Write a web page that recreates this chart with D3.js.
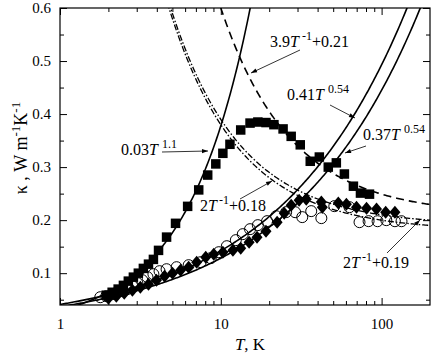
<!DOCTYPE html>
<html>
<head>
<meta charset="utf-8">
<script src="https://cdn.jsdelivr.net/npm/d3@7"></script>
<style>
  body { margin: 0; background: #fff; }
  svg text { font-family: "Liberation Serif", "Times New Roman", Times, "DejaVu Serif", serif !important; fill: #000; }
</style>
</head>
<body>
<svg id="chart" width="436" height="357"></svg>
<script>
// filled squares
var sqT = [1.94, 2.11, 2.30, 2.48, 2.66, 2.86, 3.07, 3.30, 3.55, 3.81, 4.10, 4.60, 5.23, 6.22, 7.29, 8.29, 9.31, 10.3, 11.4, 13.3, 15.2, 17.0, 19.1, 21.4, 24.4, 27.4, 31.2, 36.0, 41.0, 46.6, 52.3, 58.7, 66.8, 73.9, 84.1];
var sqK = [0.0585, 0.064, 0.070, 0.077, 0.085, 0.0925, 0.100, 0.109, 0.117, 0.126, 0.143, 0.168, 0.194, 0.226, 0.257, 0.285, 0.306, 0.326, 0.343, 0.370, 0.383, 0.385, 0.384, 0.380, 0.372, 0.358, 0.342, 0.311, 0.319, 0.300, 0.308, 0.287, 0.264, 0.251, 0.249];

// open circles
var ciT = [1.78, 1.94, 2.11, 2.27, 2.44, 2.62, 2.82, 3.03, 3.25, 3.50, 3.81, 4.16, 4.60, 5.31, 6.31, 7.50, 8.66, 9.72, 10.9, 12.4, 13.7, 15.2, 17.0, 19.4, 22.1, 25.5, 29.0, 32.1, 36.5, 42.2, 50.8, 63.1, 72.9, 83.0, 94.4, 107, 121, 133];
var ciK = [0.0547, 0.0566, 0.0604, 0.0642, 0.066, 0.0698, 0.0755, 0.0811, 0.0868, 0.0925, 0.0981, 0.1038, 0.1075, 0.1113, 0.1151, 0.1208, 0.1283, 0.1396, 0.1509, 0.1623, 0.1736, 0.183, 0.1906, 0.1981, 0.2075, 0.2151, 0.215, 0.2057, 0.217, 0.2038, 0.2264, 0.2245, 0.1962, 0.1981, 0.198, 0.200, 0.198, 0.198];

// filled diamonds
var diT = [2.0, 2.24, 2.51, 2.82, 3.16, 3.55, 3.98, 4.47, 5.01, 5.62, 6.31, 7.08, 8.06, 9.04, 10.3, 11.9, 13.3, 15.0, 16.8, 19.1, 22.4, 24.8, 27.4, 30.7, 34.0, 42.2, 42.8, 53.8, 60.4, 69.8, 80.6, 93.0, 106, 121];
var diK = [0.0528, 0.0566, 0.0623, 0.0679, 0.0736, 0.0792, 0.0868, 0.0943, 0.100, 0.1057, 0.1113, 0.1208, 0.1302, 0.1358, 0.1396, 0.1434, 0.1472, 0.1585, 0.1679, 0.1792, 0.1962, 0.2132, 0.2283, 0.2377, 0.2396, 0.234, 0.2245, 0.2321, 0.2302, 0.2245, 0.2226, 0.2208, 0.2151, 0.2151];

// fitted curves  k = a*T^b  and  k = c/T + d
var powA = [0.03, 0.041, 0.037];
var powB = [1.1, 0.54, 0.54];
var invC = [3.9, 2, 2];
var invD = [0.21, 0.18, 0.19];

var xTicks = [1, 10, 100];
var xMinor = [2, 3, 4, 5, 6, 7, 8, 9, 20, 30, 40, 50, 60, 70, 80, 90];
var yTicks = [0.1, 0.2, 0.3, 0.4, 0.5, 0.6];
var yMinor = [0.05, 0.15, 0.25, 0.35, 0.45, 0.55];

var FONT = '"Liberation Serif", "Times New Roman", Times, serif';
var margin = {left: 60, top: 8, right: 6, bottom: 52};
var W = 436, H = 357;
var w = W - margin.left - margin.right, h = H - margin.top - margin.bottom;

var svg = d3.select('#chart');
var g = svg.append('g').attr('transform', 'translate(' + margin.left + ',' + margin.top + ')');

var x = d3.scaleLog().domain([1, 200]).range([0, w]);
var y = d3.scaleLinear().domain([0.04, 0.6]).range([h, 0]);

var defs = svg.append('defs');
defs.append('clipPath').attr('id', 'clip')
  .append('rect').attr('width', w).attr('height', h);
defs.append('marker').attr('id', 'arr')
  .attr('viewBox', '0 0 10 10').attr('refX', 10).attr('refY', 5)
  .attr('markerWidth', 7).attr('markerHeight', 6).attr('orient', 'auto')
  .attr('markerUnits', 'userSpaceOnUse')
  .append('path').attr('d', 'M0,1.5L10,5L0,8.5Z').attr('fill', '#000');

// axes, ticks pointing inward on all sides
function addAxis(axis, tr, vals, size, labels) {
  var a = g.append('g').attr('transform', tr)
    .call(axis.tickValues(vals).tickSizeInner(size).tickSizeOuter(0).tickPadding(labels ? 13 : 0)
      .tickFormat(labels ? null : function() { return ''; }));
  a.attr('font-family', FONT);
  a.select('.domain').remove();
  a.selectAll('line').attr('stroke', '#000').attr('stroke-width', 1);
  a.selectAll('text').attr('font-size', 15).style('font-family', FONT);
  return a;
}
addAxis(d3.axisBottom(x), 'translate(0,' + h + ')', xTicks, -7, true).selectAll('text').text(function(d) { return d; });
addAxis(d3.axisBottom(x), 'translate(0,' + h + ')', xMinor, -4, false);
addAxis(d3.axisTop(x), 'translate(0,0)', xTicks, -7, false);
addAxis(d3.axisTop(x), 'translate(0,0)', xMinor, -4, false);
addAxis(d3.axisLeft(y), 'translate(0,0)', yTicks, -7, true).selectAll('text').attr('dx', 4).text(function(d) { return d3.format('.1f')(d); });
addAxis(d3.axisLeft(y), 'translate(0,0)', yMinor, -4, false);
addAxis(d3.axisRight(y), 'translate(' + w + ',0)', yTicks, -7, false);
addAxis(d3.axisRight(y), 'translate(' + w + ',0)', yMinor, -4, false);

g.append('rect').attr('width', w).attr('height', h)
  .attr('fill', 'none').attr('stroke', '#000').attr('stroke-width', 1.2);

// curves
var plot = g.append('g').attr('clip-path', 'url(#clip)');
var Ts = d3.range(0, 301).map(function(i) { return Math.pow(10, i * Math.log10(200) / 300); });
var line = d3.line().x(function(d) { return x(d[0]); }).y(function(d) { return y(d[1]); });

powA.forEach(function(a, i) {
  plot.append('path')
    .attr('d', line(Ts.map(function(t) { return [t, a * Math.pow(t, powB[i])]; })))
    .attr('fill', 'none').attr('stroke', '#000').attr('stroke-width', 1.6);
});
invC.forEach(function(c, i) {
  plot.append('path')
    .attr('d', line(Ts.map(function(t) { return [t, c / t + invD[i]]; }).filter(function(p) { return p[1] < 0.7; })))
    .attr('fill', 'none').attr('stroke', '#000').attr('stroke-width', i == 0 ? 1.6 : 1.3)
    .attr('stroke-dasharray', i == 0 ? '8,5' : '6,2,1.5,2');
});

// data markers
var sqs = d3.zip(sqT, sqK), cis = d3.zip(ciT, ciK), dis = d3.zip(diT, diK);
plot.selectAll('.ci').data(cis).enter().append('circle')
  .attr('cx', function(d) { return x(d[0]); }).attr('cy', function(d) { return y(d[1]); })
  .attr('r', 5.5).attr('fill', 'none').attr('stroke', '#000').attr('stroke-width', 1);
plot.selectAll('.di').data(dis).enter().append('path')
  .attr('transform', function(d) { return 'translate(' + x(d[0]) + ',' + y(d[1]) + ')'; })
  .attr('d', 'M0,-6.5L5.5,0L0,6.5L-5.5,0Z').attr('fill', '#000');
plot.selectAll('.sq').data(sqs).enter().append('rect')
  .attr('x', function(d) { return x(d[0]) - 4.75; }).attr('y', function(d) { return y(d[1]) - 4.75; })
  .attr('width', 9.5).attr('height', 9.5).attr('fill', '#000');

// annotations
function label(px, py, parts) {
  var t = g.append('text').attr('x', px).attr('y', py).attr('font-size', 16).style('font-family', FONT);
  parts.forEach(function(p) {
    var s = t.append('tspan').text(p.s);
    if (p.it) s.attr('font-style', 'italic');
    if (p.sup) s.attr('font-size', 12).attr('dy', -7).attr('dx', p.dx || 2);
    if (p.down) s.attr('dy', 7);
  });
}
function arrow(x1, y1, x2, y2) {
  g.append('line').attr('x1', x1).attr('y1', y1).attr('x2', x2).attr('y2', y2)
    .attr('stroke', '#000').attr('stroke-width', 0.8).attr('marker-end', 'url(#arr)');
}
label(210, 39, [{s: '3.9'}, {s: 'T', it: 1}, {s: '-1', sup: 1, dx: 3}, {s: '+0.21', down: 1}]);
arrow(240, 42, 191, 65);
label(227, 92, [{s: '0.41'}, {s: 'T', it: 1}, {s: '0.54', sup: 1, dx: 4}]);
label(303, 132, [{s: '0.37'}, {s: 'T', it: 1}, {s: '0.54', sup: 1, dx: 4}]);
arrow(270, 97, 295, 110);
arrow(306, 138, 285, 145);
label(61, 147, [{s: '0.03'}, {s: 'T', it: 1}, {s: '1.1', sup: 1, dx: 4}]);
arrow(102, 144, 148, 143);
label(140, 203, [{s: '2'}, {s: 'T', it: 1}, {s: '-1', sup: 1, dx: 2}, {s: '+0.18', down: 1}]);
arrow(180, 191, 212, 173);
label(283, 260, [{s: '2'}, {s: 'T', it: 1}, {s: '-1', sup: 1, dx: 2}, {s: '+0.19', down: 1}]);
arrow(327, 245, 360, 212);

// axis titles
var xt = svg.append('text').attr('x', 250).attr('y', 350).attr('text-anchor', 'middle')
  .attr('font-size', 17).style('font-family', FONT);
xt.append('tspan').attr('font-style', 'italic').text('T');
xt.append('tspan').text(', K');

var yt = svg.append('text').attr('transform', 'translate(27,148) rotate(-90)')
  .attr('text-anchor', 'middle').attr('font-size', 18).style('font-family', FONT);
yt.append('tspan').text('\u03ba , W m');
yt.append('tspan').attr('font-size', 13).attr('dy', -7).text('-1');
yt.append('tspan').attr('dy', 7).text('K');
yt.append('tspan').attr('font-size', 13).attr('dy', -7).text('-1');
</script>
</body>
</html>
